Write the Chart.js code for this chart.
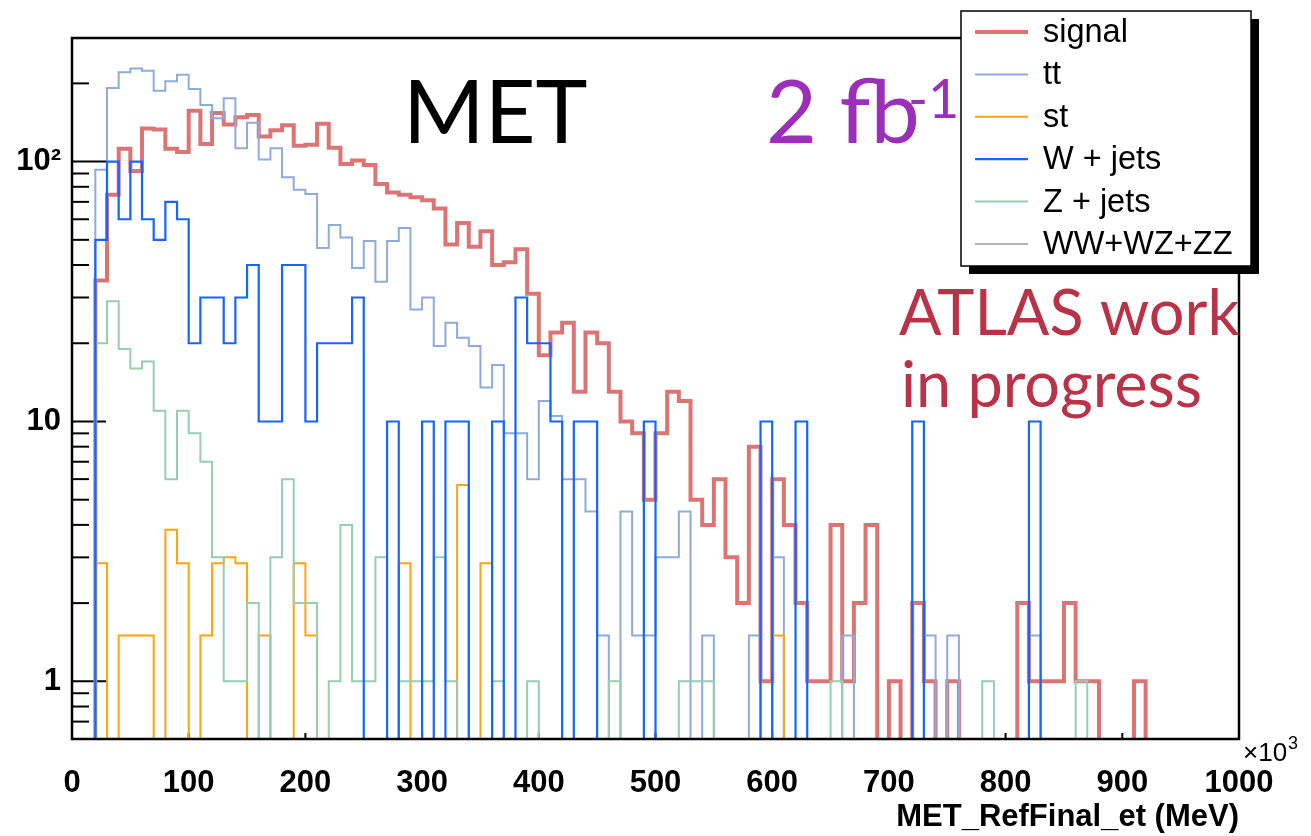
<!DOCTYPE html>
<html>
<head>
<meta charset="utf-8">
<title>MET</title>
<script src="https://cdn.jsdelivr.net/npm/chart.js@4.4.1/dist/chart.umd.min.js"></script>
<style>
  html, body { margin: 0; padding: 0; background: #fff; }
  canvas { display: block; }
</style>
</head>
<body>
<canvas id="metChart" width="1311" height="836"></canvas>
<script>
// MET_RefFinal_et histograms, 10 GeV bins from 0 to 1000 (x10^3 MeV)
const binEdges = Array.from({ length: 101 }, (_, i) => i * 10);

const signal = [
  0, 0, 34.9, 74.5, 112, 92, 134, 133, 112, 109,
  157, 117, 154, 139, 148, 151, 125, 132, 138, 115,
  116, 140, 113, 98, 101, 97, 82, 76, 74.5, 73,
  71, 66, 48, 58, 47, 54, 40, 41, 46, 31,
  18, 22, 24, 13, 22, 20, 13, 10, 9, 5,
  9, 13, 12, 5, 4, 6, 3, 2, 8, 1,
  6, 4, 2, 1, 1, 4, 1, 2, 4, 0,
  1, 0, 2, 1, 0, 1, 0, 0, 0, 0,
  0, 2, 1, 1, 1, 2, 1, 1, 0, 0,
  0, 1, 0, 0, 0, 0, 0, 0, 0, 0
];

const ttbar = [
  0, 0, 93, 192, 220.5, 228, 223.5, 187.5, 204, 216,
  190.5, 165, 147, 175.5, 112.5, 141, 102, 112.5, 87, 78,
  75, 46.5, 57, 51, 39, 49.5, 34.5, 49.5, 55.5, 27,
  30, 19.5, 24, 21, 19.5, 13.5, 16.5, 9, 9, 6,
  12, 10.5, 6, 6, 4.5, 1.5, 0, 4.5, 1.5, 1.5,
  3, 3, 4.5, 0, 1.5, 0, 0, 0, 1.5, 0,
  3, 0, 0, 0, 0, 0, 1.5, 0, 0, 0,
  0, 0, 0, 1.5, 0, 1.5, 0, 0, 0, 0,
  0, 0, 1.5, 0, 0, 0, 0, 0, 0, 0,
  0, 0, 0, 0, 0, 0, 0, 0, 0, 0
];

const singleTop = [
  0, 0, 2.85, 0, 1.5, 1.5, 1.5, 0, 3.83, 2.85,
  0, 1.5, 2.85, 3, 2.85, 0, 1.5, 0, 0, 2.85,
  1.5, 0, 0, 0, 0, 0, 0, 0, 2.85, 0,
  0, 0, 0, 5.7, 0, 2.85, 0, 0, 0, 0,
  0, 0, 0, 0, 0, 0, 0, 0, 0, 0,
  0, 0, 0, 0, 0, 0, 0, 0, 0, 0,
  1.5, 0, 0, 0, 0, 0, 0, 0, 0, 0,
  0, 0, 0, 0, 0, 0, 0, 0, 0, 0,
  0, 0, 0, 0, 0, 0, 0, 0, 0, 0,
  0, 0, 0, 0, 0, 0, 0, 0, 0, 0
];

const wJets = [
  0, 0, 50, 100, 60, 100, 60, 50, 70, 60,
  20, 30, 30, 20, 30, 40, 10, 10, 40, 40,
  10, 20, 20, 20, 30, 0, 0, 10, 0, 0,
  10, 0, 10, 10, 0, 0, 10, 0, 30, 20,
  20, 10, 0, 10, 10, 0, 0, 0, 0, 10,
  0, 0, 0, 0, 0, 0, 0, 0, 0, 10,
  0, 0, 10, 0, 0, 0, 0, 0, 0, 0,
  0, 0, 10, 0, 0, 0, 0, 0, 0, 0,
  0, 0, 10, 0, 0, 0, 0, 0, 0, 0,
  0, 0, 0, 0, 0, 0, 0, 0, 0, 0
];

const zJets = [
  0, 0, 20, 29, 19, 16, 17, 11, 6, 11,
  9, 7, 3, 1, 1, 2, 0, 3, 6, 2,
  2, 0, 1, 4, 1, 1, 3, 0, 1, 1,
  1, 3, 1, 0, 0, 0, 1, 0, 0, 1,
  0, 0, 0, 0, 0, 0, 1, 0, 0, 0,
  0, 0, 1, 1, 1, 0, 0, 0, 0, 0,
  0, 0, 0, 0, 0, 1, 0, 0, 0, 0,
  0, 0, 0, 0, 0, 0, 0, 0, 1, 0,
  0, 0, 0, 0, 0, 0, 1, 0, 0, 0,
  0, 0, 0, 0, 0, 0, 0, 0, 0, 0
];

const diboson = [
  0, 0, 0, 0, 0, 0, 0, 0, 0, 0,
  0, 0, 0, 0, 0, 0, 0, 0, 0, 0,
  0, 0, 0, 0, 0, 0, 0, 0, 0, 0,
  0, 0, 0, 0, 0, 0, 0, 0, 0, 0,
  0, 0, 0, 0, 0, 0, 0, 0, 0, 0,
  0, 0, 0, 0, 0, 0, 0, 0, 0, 0,
  0, 0, 0, 0, 0, 0, 0, 0, 0, 0,
  0, 0, 0, 0, 0, 0, 0, 0, 0, 0,
  0, 0, 0, 0, 0, 0, 0, 0, 0, 0,
  0, 0, 0, 0, 0, 0, 0, 0, 0, 0
];

const yLabels = { 1: '1', 10: '10', 100: '10\u00b2' };

// axis range and look
const yMin = 0.63, yMax = 299;
const emptyLevel = 0.3;   // empty bins go under the frame (log axis can't show 0)
const helv = "'Liberation Sans', Arial, Helvetica, sans-serif";
const gill = "Lato, 'Open Sans', sans-serif";

const series = [
  { label: 'signal',   values: signal,    color: '#dc7474', width: 4,   order: 6 },
  { label: 'tt',       values: ttbar,     color: '#8dabdd', width: 2,   order: 5 },
  { label: 'st',       values: singleTop, color: '#ffa30f', width: 2,   order: 3 },
  { label: 'W + jets', values: wJets,     color: '#1565ff', width: 2.2, order: 1 },
  { label: 'Z + jets', values: zJets,     color: '#97cdb3', width: 2,   order: 2 },
  { label: 'WW+WZ+ZZ', values: diboson,   color: '#9a9a9a', width: 1.5, order: 4 }
];

// histogram outline: one point per bin edge, drawn as steps
const toSteps = values => {
  const pts = values.map((v, i) => ({ x: binEdges[i], y: v > 0 ? v : emptyLevel }));
  pts.push({ x: binEdges[values.length], y: pts[pts.length - 1].y });
  return pts;
};

// ROOT-ish frame, ticks, texts and legend
const rootStyle = {
  id: 'rootStyle',
  beforeDatasetsDraw(chart) {
    const { ctx, chartArea: a, scales: { x, y } } = chart;
    ctx.save();
    ctx.strokeStyle = '#000';
    ctx.lineWidth = 2;
    [0.1, 1, 10, 100].forEach(decade => {
      for (let s = 1; s <= 9; s++) {
        const v = s * decade;
        if (v < yMin || v > yMax) continue;
        const py = y.getPixelForValue(v);
        ctx.beginPath();
        ctx.moveTo(a.left, py);
        ctx.lineTo(a.left + (s === 1 ? 34 : 17), py);
        ctx.stroke();
      }
    });
    x.ticks.forEach(t => {
      const px = x.getPixelForValue(t.value);
      ctx.beginPath();
      ctx.moveTo(px, a.bottom);
      ctx.lineTo(px, a.bottom - 6);
      ctx.stroke();
    });
    ctx.restore();
  },
  afterDraw(chart) {
    const { ctx, chartArea: a } = chart;
    ctx.save();

    // frame
    ctx.strokeStyle = '#000';
    ctx.lineWidth = 2.5;
    ctx.strokeRect(a.left, a.top, a.right - a.left, a.bottom - a.top);

    // x10^3 next to the axis end
    ctx.fillStyle = '#000';
    ctx.textBaseline = 'alphabetic';
    ctx.font = `26px ${helv}`;
    const times = '\u00d710';
    ctx.fillText(times, a.right + 4, 761);
    const tw = ctx.measureText(times).width;
    ctx.font = `18px ${helv}`;
    ctx.fillText('3', a.right + 5 + tw, 749);

    // big labels
    ctx.font = `88px ${gill}`;
    ctx.fillStyle = '#000';
    ctx.fillText('MET', 403, 143);
    ctx.fillStyle = '#9b2fba';
    ctx.fillText('2 fb', 766, 143);
    ctx.font = `54px ${gill}`;
    ctx.fillText('-1', 908, 118);

    ctx.fillStyle = '#b83348';
    ctx.font = `63px ${gill}`;
    ctx.fillText('ATLAS work', 899, 335);
    ctx.fillText('in progress', 901, 407);

    // legend box with shadow
    const lg = { left: 961, top: 11, w: 290, h: 255, shadow: 8 };
    ctx.fillStyle = '#000';
    ctx.fillRect(lg.left + lg.shadow, lg.top + lg.shadow, lg.w, lg.h);
    ctx.fillStyle = '#fff';
    ctx.fillRect(lg.left, lg.top, lg.w, lg.h);
    ctx.strokeStyle = '#000';
    ctx.lineWidth = 1.5;
    ctx.strokeRect(lg.left, lg.top, lg.w, lg.h);

    ctx.textBaseline = 'middle';
    ctx.font = `32.5px ${helv}`;
    chart.data.datasets.forEach((ds, i) => {
      const cy = 33 + i * 42.4;
      ctx.strokeStyle = ds.borderColor;
      ctx.lineWidth = ds.borderWidth;
      ctx.beginPath();
      ctx.moveTo(975, cy - 1);
      ctx.lineTo(1028, cy - 1);
      ctx.stroke();
      ctx.fillStyle = '#000';
      ctx.fillText(ds.label, 1043, cy);
    });
    ctx.restore();
  }
};

new Chart(document.getElementById('metChart').getContext('2d'), {
  type: 'line',
  data: {
    datasets: series.map(s => ({
      label: s.label,
      data: toSteps(s.values),
      borderColor: s.color,
      borderWidth: s.width,
      order: s.order,
      stepped: 'before',
      fill: false,
      pointRadius: 0,
      borderJoinStyle: 'miter',
      borderCapStyle: 'butt'
    }))
  },
  options: {
    responsive: false,
    animation: false,
    layout: { padding: { top: 38, right: 72, left: 0, bottom: 0 } },
    plugins: { legend: { display: false }, tooltip: { enabled: false } },
    scales: {
      x: {
        type: 'linear',
        min: 0,
        max: 1000,
        grid: { display: false, drawTicks: false },
        border: { display: false },
        ticks: {
          stepSize: 100,
          autoSkip: false,
          maxRotation: 0,
          padding: 26,
          color: '#000',
          font: { family: helv, size: 31, weight: 'bold' },
          callback: v => String(v)
        },
        title: {
          display: true,
          text: 'MET_RefFinal_et (MeV)',
          align: 'end',
          color: '#000',
          padding: { top: 0, bottom: 0 },
          font: { family: helv, size: 31, weight: 'bold' }
        },
        afterFit: s => { s.height = 97; }
      },
      y: {
        type: 'logarithmic',
        min: yMin,
        max: yMax,
        grid: { display: false, drawTicks: false },
        border: { display: false },
        ticks: {
          autoSkip: false,
          padding: 11,
          color: '#000',
          font: { family: helv, size: 31, weight: 'bold' },
          callback: v => yLabels[v] || ''
        },
        afterFit: s => { s.width = 72; }
      }
    }
  },
  plugins: [rootStyle]
});
</script>
</body>
</html>
